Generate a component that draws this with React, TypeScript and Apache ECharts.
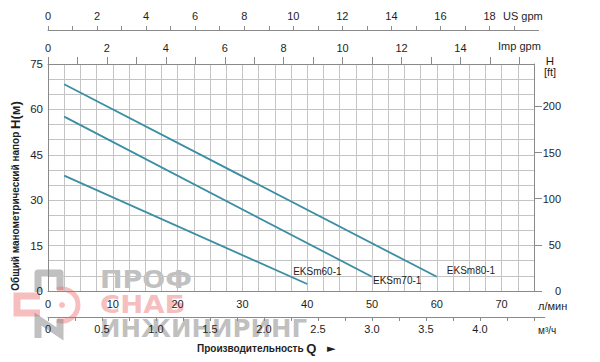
import React, { useEffect, useRef } from 'react';
import * as echarts from 'echarts';

// ---- data ----
const lpmLabels = [0, 10, 20, 30, 40, 50, 60, 70];
const headLabels = [0, 15, 30, 45, 60, 75];
const ftTicks = [0, 50, 100, 150, 200];
const impTicks = [0, 1, 2, 3, 4, 5, 6, 7, 8, 9, 10, 11, 12, 13, 14, 15, 16];
const impLabels = [0, 2, 4, 6, 8, 10, 12, 14];
const usTicks = [0, 1, 2, 3, 4, 5, 6, 7, 8, 9, 10, 11, 12, 13, 14, 15, 16, 17, 18, 19];
const usLabels = [0, 2, 4, 6, 8, 10, 12, 14, 16, 18];
const m3Ticks = [0, 0.25, 0.5, 0.75, 1, 1.25, 1.5, 1.75, 2, 2.25, 2.5, 2.75, 3, 3.25, 3.5, 3.75, 4, 4.25, 4.5];
const m3Labels = [0, 0.5, 1, 1.5, 2, 2.5, 3, 3.5, 4];

const seriesNames = ['EKSm60-1', 'EKSm70-1', 'EKSm80-1'];
const eks60Q = [2.5, 40];
const eks60H = [38.1, 2.3];
const eks70Q = [2.5, 50];
const eks70H = [57.6, 4.7];
const eks80Q = [2.5, 60];
const eks80H = [68.3, 4.7];

const LPM_MAX = 75;
const H_MAX = 75;
const LPM_PER_USGPM = 3.78541;
const LPM_PER_IMPGPM = 4.54609;
const LPM_PER_M3H = 1000 / 60;
const M_PER_FT = 0.3048;

const FONT = '"Liberation Sans", Arial, Helvetica, sans-serif';
const LINE_COLOR = '#3b8ea3';
const AXIS_COLOR = '#8a8a8a';
const GRID_COLOR = '#c4c4c4';
const TEXT = '#1e1e1e';

const PLOT_LEFT = 48;
const PLOT_WIDTH = 486;

const pairs = (q: number[], h: number[]) => q.map((v, i) => [v, h[i]]);

export default function App() {
  const ref = useRef<HTMLDivElement>(null);
  useEffect(() => {
    if (!ref.current) return;
    const chart = echarts.init(ref.current, undefined, { renderer: 'svg' });
    const usMax = 20;
    const usWidth = (usMax * LPM_PER_USGPM / LPM_MAX) * PLOT_WIDTH;
    const m3Max = 4.6;
    const m3Width = (m3Max * LPM_PER_M3H / LPM_MAX) * PLOT_WIDTH;

    const labelStyle = { color: TEXT, fontSize: 11, fontFamily: FONT };

    const mkSeries = (name: string, q: number[], h: number[], offset: number[]) => ({
      type: 'line',
      name,
      xAxisIndex: 0,
      yAxisIndex: 0,
      data: pairs(q, h),
      showSymbol: false,
      symbol: 'none',
      lineStyle: { color: LINE_COLOR, width: 1.8 },
      itemStyle: { color: LINE_COLOR },
      endLabel: {
        show: true,
        formatter: name,
        offset,
        distance: 8,
        color: TEXT,
        fontSize: 10,
        fontFamily: FONT,
      },
      silent: true,
    });

    const wmGray = 'rgba(130,130,130,0.5)';
    const wmRed = 'rgba(235,110,110,0.45)';

    chart.setOption({
      animation: false,
      backgroundColor: '#ffffff',
      textStyle: { fontFamily: FONT },
      grid: [
        { left: PLOT_LEFT, width: PLOT_WIDTH, top: 64, height: 227, containLabel: false, outerBoundsMode: 'none' },
        { left: PLOT_LEFT, width: usWidth, top: 30, height: 1, containLabel: false, outerBoundsMode: 'none' },
        { left: PLOT_LEFT, width: m3Width, top: 316, height: 1, containLabel: false, outerBoundsMode: 'none' },
      ],
      xAxis: [
        {
          type: 'value', gridIndex: 0, position: 'bottom', min: 0, max: LPM_MAX, interval: 2.5,
          axisLine: { show: true, lineStyle: { color: AXIS_COLOR, width: 1 } },
          axisTick: { show: false },
          splitLine: { show: true, lineStyle: { color: GRID_COLOR, width: 1 } },
          axisLabel: {
            ...labelStyle, margin: 7,
            formatter: (v: number) => (lpmLabels.includes(v) ? String(v) : ''),
          },
        },
        {
          type: 'value', gridIndex: 0, position: 'top', min: 0, max: LPM_MAX / LPM_PER_IMPGPM,
          axisLine: { show: true, onZero: false, lineStyle: { color: AXIS_COLOR, width: 1 } },
          axisTick: { show: true, customValues: impTicks, length: 7, lineStyle: { color: AXIS_COLOR } },
          splitLine: { show: false },
          axisLabel: { ...labelStyle, margin: 11, customValues: impLabels, formatter: (v: number) => String(v) },
        },
        {
          type: 'value', gridIndex: 1, position: 'top', min: 0, max: usMax,
          axisLine: { show: true, onZero: false, lineStyle: { color: AXIS_COLOR, width: 1 } },
          axisTick: { show: true, customValues: usTicks, length: 4, lineStyle: { color: AXIS_COLOR } },
          splitLine: { show: false },
          axisLabel: { ...labelStyle, margin: 9, customValues: usLabels, formatter: (v: number) => String(v) },
        },
        {
          type: 'value', gridIndex: 2, position: 'bottom', min: 0, max: m3Max,
          axisLine: { show: true, onZero: false, lineStyle: { color: AXIS_COLOR, width: 1 } },
          axisTick: { show: true, customValues: m3Ticks, length: 4, lineStyle: { color: AXIS_COLOR } },
          splitLine: { show: false },
          axisLabel: {
            ...labelStyle, margin: 6, customValues: m3Labels,
            formatter: (v: number) => (v === 0 ? '0' : v.toFixed(1)),
          },
        },
      ],
      yAxis: [
        {
          type: 'value', gridIndex: 0, position: 'left', min: 0, max: H_MAX, interval: 5,
          axisLine: { show: true, onZero: false, lineStyle: { color: AXIS_COLOR, width: 1 } },
          axisTick: { show: false },
          splitLine: { show: true, lineStyle: { color: GRID_COLOR, width: 1 } },
          axisLabel: {
            ...labelStyle, fontSize: 11.5, margin: 5,
            formatter: (v: number) => (headLabels.includes(v) ? String(v) : ''),
          },
        },
        {
          type: 'value', gridIndex: 0, position: 'right', min: 0, max: H_MAX / M_PER_FT,
          axisLine: { show: true, onZero: false, lineStyle: { color: AXIS_COLOR, width: 1 } },
          axisTick: { show: true, customValues: ftTicks, length: 8, lineStyle: { color: AXIS_COLOR } },
          splitLine: { show: false },
          axisLabel: { ...labelStyle, margin: 27, align: 'right', customValues: ftTicks, formatter: (v: number) => String(v) },
        },
        { type: 'value', gridIndex: 1, show: false, min: 0, max: 1 },
        { type: 'value', gridIndex: 2, show: false, min: 0, max: 1 },
      ],
      series: [
        mkSeries(seriesNames[0], eks60Q, eks60H, [-22, -13]),
        mkSeries(seriesNames[1], eks70Q, eks70H, [-7, 4]),
        mkSeries(seriesNames[2], eks80Q, eks80H, [2, -6]),
      ],
      graphic: [
        { type: 'text', left: 503, top: 10, style: { text: 'US gpm', fill: TEXT, font: `11px ${FONT}` } },
        { type: 'text', left: 498, top: 40, style: { text: 'Imp gpm', fill: TEXT, font: `11px ${FONT}` } },
        { type: 'text', x: 550, y: 61, style: { text: 'H', fill: TEXT, font: `11.5px ${FONT}`, align: 'center', verticalAlign: 'middle' } },
        { type: 'text', x: 550, y: 72, style: { text: '[ft]', fill: TEXT, font: `11px ${FONT}`, align: 'center', verticalAlign: 'middle' } },
        { type: 'text', x: 538, y: 306, style: { text: 'л/мин', fill: TEXT, font: `11px ${FONT}`, verticalAlign: 'middle' } },
        { type: 'text', x: 538, y: 330, style: { text: 'м³/ч', fill: TEXT, font: `10px ${FONT}`, verticalAlign: 'middle' } },
        {
          type: 'text', x: 197, y: 348,
          style: {
            text: '{a|Производительность }{b|Q}{c|   ►}',
            verticalAlign: 'middle',
            rich: {
              a: { fontSize: 10, fontWeight: 'bold', fontFamily: FONT, fill: TEXT, color: TEXT },
              b: { fontSize: 13, fontWeight: 'bold', fontFamily: FONT, fill: TEXT, color: TEXT },
              c: { fontSize: 11, fontFamily: '"DejaVu Sans", sans-serif', fill: TEXT, color: TEXT },
            },
          },
        },
        {
          type: 'text', x: 15, y: 196, rotation: Math.PI / 2,
          style: {
            text: '{a|Общий манометрический напор }{b|H(м)}',
            align: 'center',
            verticalAlign: 'middle',
            rich: {
              a: { fontSize: 10, fontWeight: 'bold', fontFamily: FONT, fill: TEXT, color: TEXT },
              b: { fontSize: 13, fontWeight: 'bold', fontFamily: FONT, fill: TEXT, color: TEXT },
            },
          },
        },
        // watermark
        {
          type: 'group', z: 100, silent: true,
          children: [
            { type: 'polyline', shape: { points: [[38, 292], [38, 273], [60, 273], [60, 290]] }, style: { stroke: wmGray, lineWidth: 7, fill: null, lineJoin: 'round' } },
            { type: 'polyline', shape: { points: [[40, 296], [17, 296], [17, 313], [40, 313]] }, style: { stroke: wmRed, lineWidth: 7, fill: null } },
            { type: 'arc', shape: { cx: 62, cy: 305, r: 16, startAngle: -Math.PI * 0.6, endAngle: Math.PI * 0.6 }, style: { stroke: wmRed, lineWidth: 5, fill: null } },
            { type: 'circle', shape: { cx: 62, cy: 305, r: 3 }, style: { fill: wmRed } },
            { type: 'polyline', shape: { points: [[38, 338], [38, 319], [60, 334], [60, 319]] }, style: { stroke: wmGray, lineWidth: 7, fill: null } },
            { type: 'text', x: 100, y: 279, scaleX: 1.08, style: { text: 'ПРОФ', fill: wmGray, font: `bold 25px "DejaVu Sans", sans-serif`, verticalAlign: 'middle' } },
            { type: 'text', x: 100, y: 304, scaleX: 1.1, style: { text: 'СНАБ', fill: wmRed, font: `bold 25px "DejaVu Sans", sans-serif`, verticalAlign: 'middle' } },
            { type: 'text', x: 100, y: 328, scaleX: 0.98, style: { text: 'ИНЖИНИРИНГ', fill: wmGray, font: `bold 25px "DejaVu Sans", sans-serif`, verticalAlign: 'middle' } },
          ],
        },
      ],
    });
    return () => chart.dispose();
  }, []);
  return <div ref={ref} style={{ width: 600, height: 362, position: 'absolute', left: 0, top: 0 }} />;
}
